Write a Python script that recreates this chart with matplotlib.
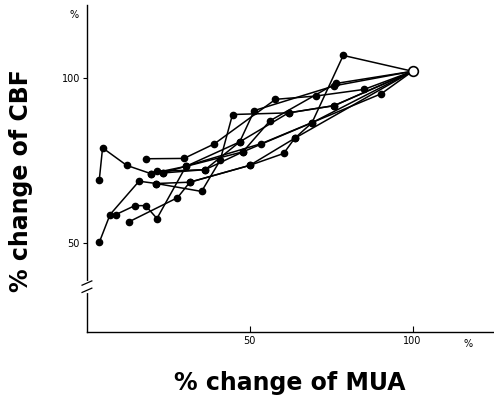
import matplotlib
matplotlib.use("Agg")
import matplotlib.pyplot as plt

# Data (% change of MUA vs % change of CBF); each series ends at the control point (100, 102)
end_x, end_y = 100, 102

s1_x = [3.8, 4.8, 12.2, 19.6, 21.4, 36.3, 47.9, 56.2, 76.4]
s1_y = [69.2, 78.8, 73.5, 71.0, 71.7, 72.2, 77.6, 87.0, 98.3]

s2_x = [18.0, 29.8, 39.1, 57.9, 70.3, 85.1]
s2_y = [75.5, 75.6, 80.0, 93.5, 94.5, 96.5]

s3_x = [3.8, 7.1, 16.0, 21.3, 35.2, 40.9, 44.7, 62.0, 76.0]
s3_y = [50.2, 58.6, 68.7, 68.0, 65.6, 75.0, 88.9, 89.4, 91.6]

s4_x = [8.9, 14.7, 18.0, 21.5, 30.4, 46.9, 51.4, 76.0]
s4_y = [58.6, 61.3, 61.3, 57.4, 73.2, 80.6, 90.1, 97.6]

s5_x = [12.9, 27.8, 31.6, 50.0, 60.4, 63.8, 69.1, 78.7]
s5_y = [56.4, 63.7, 68.4, 73.5, 77.1, 81.7, 86.4, 106.8]

s6_x = [23.4, 53.6, 90.4]
s6_y = [71.2, 80.1, 95.2]

s7_x = [21.3, 31.6, 50.0, 63.8]
s7_y = [68.0, 68.4, 73.5, 81.7]

s8_x = [19.6, 30.4, 47.9, 69.1]
s8_y = [71.0, 73.2, 77.6, 86.4]

s9_x = [23.4, 36.3, 46.9, 61.9, 75.9]
s9_y = [71.2, 72.2, 80.6, 89.4, 91.6]

series = [(s1_x, s1_y), (s2_x, s2_y), (s3_x, s3_y), (s4_x, s4_y), (s5_x, s5_y),
          (s6_x, s6_y), (s7_x, s7_y), (s8_x, s8_y), (s9_x, s9_y)]

x_ticks = [50, 100]
y_ticks = [50, 100]

fig = plt.figure(figsize=(4.94, 4.03), dpi=100)
ax = fig.add_axes([0.176, 0.176, 0.824, 0.811])

for xs, ys in series:
    ax.plot(xs + [end_x], ys + [end_y], color="black", lw=1.1, zorder=2)
    ax.plot(xs, ys, "o", color="black", ms=4.5, zorder=3)
ax.plot([end_x], [end_y], "o", mfc="white", mec="black", mew=1.2, ms=7, zorder=4)

ax.set_xlim(0, 125)
ax.set_ylim(23, 122)
for s in ["top", "right"]:
    ax.spines[s].set_visible(False)
ax.spines["left"].set_linewidth(1.0)
ax.spines["bottom"].set_linewidth(1.0)

ax.set_xticks(x_ticks)
ax.set_xticklabels([str(v) for v in x_ticks], fontsize=7)
ax.set_yticks(y_ticks)
ax.set_yticklabels([str(v) for v in y_ticks], fontsize=7)
ax.tick_params(axis="x", direction="in", length=4, width=0.8, pad=3)
ax.tick_params(axis="y", direction="out", length=3, width=0.8, pad=2)

# percent marks
ax.text(117, -0.022, "%", transform=ax.get_xaxis_transform(), fontsize=7, ha="center", va="top")
ax.text(-0.02, 119, "%", transform=ax.get_yaxis_transform(), fontsize=7, ha="right", va="center")

# axis break on y
bx = ax.get_yaxis_transform()
ax.plot([0, 0], [35.5, 38.0], transform=bx, color="white", lw=3, clip_on=False, zorder=5)
ax.plot([-0.012, 0.012], [35.0, 36.3], transform=bx, color="black", lw=0.9, clip_on=False, zorder=6)
ax.plot([-0.012, 0.012], [37.2, 38.5], transform=bx, color="black", lw=0.9, clip_on=False, zorder=6)

fig.text(0.587, 0.05, "% change of MUA", fontsize=17, fontweight="bold", ha="center", va="center")
fig.text(0.042, 0.553, "% change of CBF", fontsize=17, fontweight="bold", ha="center", va="center", rotation=90)

fig.savefig("out.png", dpi=100)
